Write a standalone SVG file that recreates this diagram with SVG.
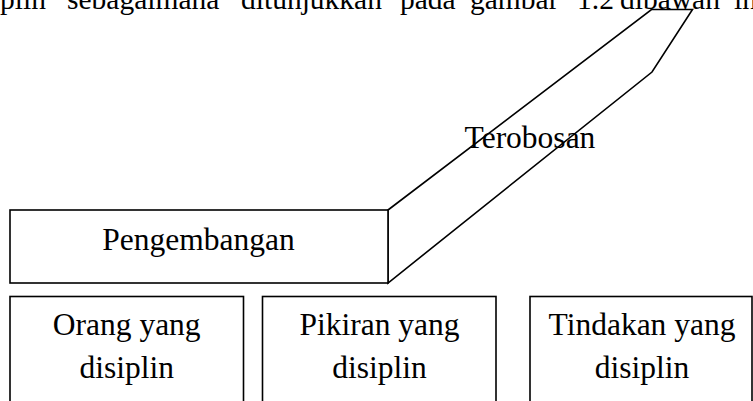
<svg xmlns="http://www.w3.org/2000/svg" width="753" height="401" viewBox="0 0 753 401">
<style>
.shape{fill:#fff;stroke:#000;stroke-width:1.6;stroke-linejoin:miter}
.t{font-family:"Liberation Serif","Times New Roman",serif;font-size:31.5px;fill:#000;text-anchor:middle}
.top{font-family:"Liberation Serif","Times New Roman",serif;font-size:29.5px;fill:#000}
</style>
<rect width="753" height="401" fill="#fff"/>
<text class="top" y="8.5"><tspan x="0">plin</tspan><tspan x="67">sebagaimana</tspan><tspan x="241">ditunjukkan</tspan><tspan x="400">pada</tspan><tspan x="470">gambar</tspan><tspan x="577">1.2</tspan><tspan x="620">dibawah</tspan><tspan x="734">ini</tspan></text>
<g id="terobosan">
<polygon class="shape" points="388,210 651.5,9.5 692.5,9.5 652,72 388,283"/>
<text class="t" x="530" y="148">Terobosan</text>
</g>
<g id="pengembangan">
<rect class="shape" x="10" y="210" width="378" height="73"/>
<text class="t" x="198.5" y="250">Pengembangan</text>
</g>
<g id="orang">
<rect class="shape" x="10" y="296.5" width="233.5" height="120"/>
<text class="t" x="126.7" y="335">Orang yang</text>
<text class="t" x="126.7" y="378">disiplin</text>
</g>
<g id="pikiran">
<rect class="shape" x="262.5" y="296.5" width="233.5" height="120"/>
<text class="t" x="379.5" y="335">Pikiran yang</text>
<text class="t" x="379.5" y="378">disiplin</text>
</g>
<g id="tindakan">
<rect class="shape" x="530" y="296.5" width="222" height="120"/>
<text class="t" x="642" y="335">Tindakan yang</text>
<text class="t" x="642" y="378">disiplin</text>
</g>
<g id="connectors"></g>
</svg>
